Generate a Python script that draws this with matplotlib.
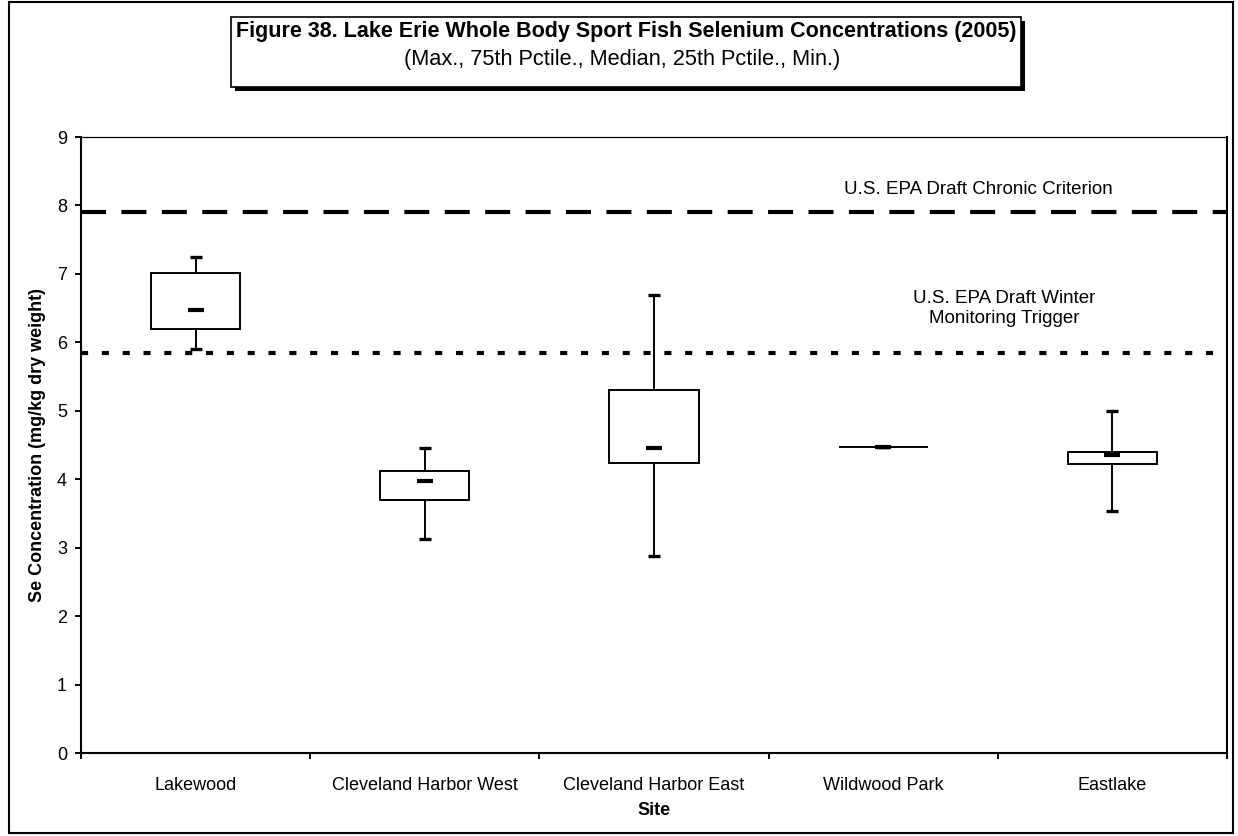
import matplotlib
matplotlib.use('Agg')
import matplotlib.pyplot as plt
import numpy as np
from matplotlib.patches import Rectangle

plt.rcParams['font.family'] = ['Liberation Sans', 'DejaVu Sans']

sites = ['Lakewood', 'Cleveland Harbor West', 'Cleveland Harbor East', 'Wildwood Park', 'Eastlake']
maxs = [7.25, 4.46, 6.69, 4.47, 5.00]
q3s = [7.01, 4.12, 5.31, 4.47, 4.40]
meds = [6.47, 3.98, 4.46, 4.47, 4.35]
q1s = [6.19, 3.69, 4.23, 4.47, 4.22]
mins = [5.90, 3.12, 2.88, 4.47, 3.53]
chronic = 7.91
winter = 5.85

W, H = 1238, 836
fig = plt.figure(figsize=(W / 100, H / 100), dpi=100)
ax = fig.add_axes([81 / W, 1 - 753 / H, (1227 - 81) / W, (753 - 137) / H])

x = np.arange(1, len(sites) + 1)
stats = []
for i in range(len(sites)):
    stats.append(dict(med=meds[i], q1=q1s[i], q3=q3s[i], whislo=mins[i], whishi=maxs[i], fliers=[]))

# reference lines
ax.axhline(chronic, color='black', lw=3, dashes=(6, 3.7), zorder=1)
ax.axhline(winter, color='black', lw=3, dashes=(1.7, 3.3), zorder=1)

ax.bxp(stats, positions=x, widths=0.39, patch_artist=True, showcaps=False, showfliers=False,
       boxprops=dict(facecolor='white', edgecolor='black', linewidth=1.4),
       whiskerprops=dict(color='black', linewidth=1.4),
       medianprops=dict(linewidth=0), zorder=2)
ax.plot(x, meds, ls='none', marker='_', ms=11.5, mew=3, color='black', zorder=3)
ax.plot(x, maxs, ls='none', marker='_', ms=8, mew=2.4, color='black', zorder=3)
ax.plot(x, mins, ls='none', marker='_', ms=8, mew=2.4, color='black', zorder=3)

ax.text(4.414, 8.226, 'U.S. EPA Draft Chronic Criterion', ha='center', va='center', fontsize=13.5)
ax.text(4.53, 6.495, 'U.S. EPA Draft Winter\nMonitoring Trigger', ha='center', va='center',
        fontsize=13.5, linespacing=1.2)

ax.set_xlim(0.5, len(sites) + 0.5)
ax.set_ylim(0, 9)
ax.set_yticks(range(0, 10))
ax.set_xticks(x)
ax.set_xticklabels(sites)
ax.set_xticks(np.arange(0.5, len(sites) + 1, 1), minor=True)
ax.tick_params(axis='x', which='major', length=0, pad=17, labelsize=13)
ax.tick_params(axis='x', which='minor', direction='out', length=4, width=1.4)
ax.tick_params(axis='y', direction='out', length=4, width=1.4, pad=6, labelsize=13)
ax.set_xlabel('Site', fontsize=13, fontweight='bold', labelpad=6)
ax.set_ylabel('Se Concentration (mg/kg dry weight)', fontsize=13, fontweight='bold', labelpad=8)
for s in ['left', 'bottom', 'right']:
    ax.spines[s].set_linewidth(1.5)
ax.spines['top'].set_linewidth(0.9)

# outer border
fig.patches.append(Rectangle((9 / W, 1 - 833 / H), (1233 - 9) / W, (833 - 2) / H,
                             transform=fig.transFigure, fill=False, ec='black', lw=1.5))

t1 = fig.text(626 / W, 1 - 32 / H, 'Figure 38. Lake Erie Whole Body Sport Fish Selenium Concentrations (2005)',
              ha='center', va='center', fontsize=15.5, fontweight='bold', zorder=5)
t2 = fig.text(622 / W, 1 - 59 / H, '(Max., 75th Pctile., Median, 25th Pctile., Min.)',
              ha='center', va='center', fontsize=15.7, zorder=5)
fig.canvas.draw()
bb = t1.get_window_extent()
x0, x1 = bb.x0 - 5, bb.x1 + 5
top, bot = 17, 87
fig.patches.append(Rectangle(((x0 + 4) / W, 1 - (bot + 4) / H), (x1 - x0) / W, (bot - top) / H,
                             transform=fig.transFigure, fc='black', ec='black', lw=0, zorder=3))
fig.patches.append(Rectangle((x0 / W, 1 - bot / H), (x1 - x0) / W, (bot - top) / H,
                             transform=fig.transFigure, fc='white', ec='black', lw=1.2, zorder=4))

fig.savefig('out.png', dpi=100)
